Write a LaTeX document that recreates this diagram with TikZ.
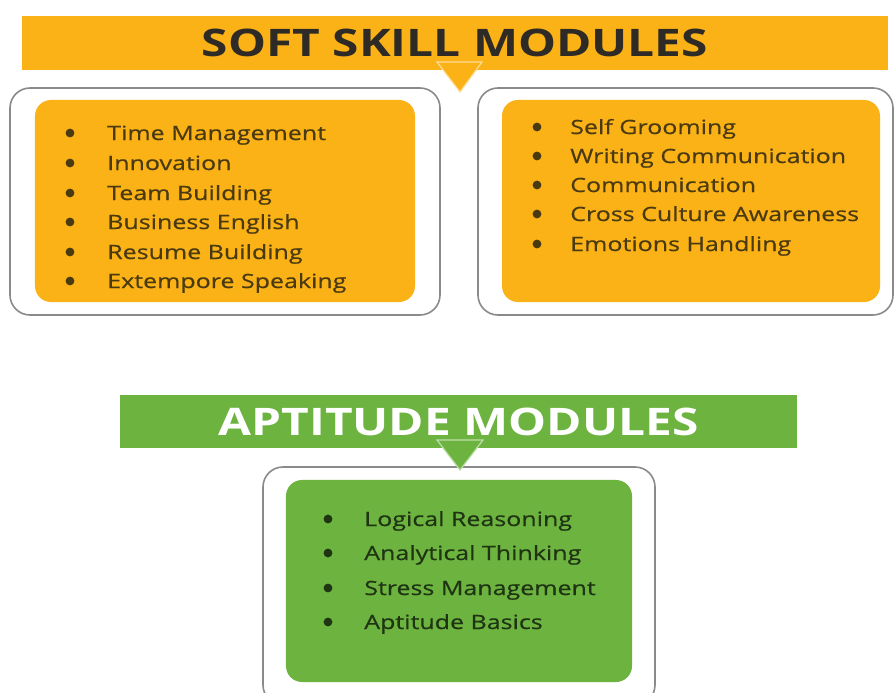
\documentclass[tikz,border=0pt]{standalone}
\usepackage{fontspec}
\setmainfont{Open Sans}
\newfontfamily\headfont[FakeStretch=1.26]{Open Sans}
\newfontfamily\itemfont[FakeStretch=1.27,FakeBold=0.5]{Open Sans}
\usetikzlibrary{positioning}
\definecolor{skillorange}{HTML}{FBB216}
\definecolor{aptgreen}{HTML}{6DB33F}
\definecolor{headgray}{HTML}{2E2A25}
\definecolor{itembrown}{HTML}{4A3A12}
\definecolor{itemgreen}{HTML}{1E3412}
\definecolor{framegray}{HTML}{8A8A8A}

\begin{document}
\begin{tikzpicture}[x=0.25mm,y=-0.25mm]
        %
        % `banner' is the heading bar, `frame' the grey outline,
        % `panel' the coloured box inside it, `dot' the bullet.
        \tikzstyle{banner} = [inner sep=0pt,minimum height=13.5mm,font=\headfont\fontsize{27}{30}\selectfont\bfseries]
        \tikzstyle{frame} = [draw=framegray,line width=0.4mm,rounded corners=5mm,fill=white]
        \tikzstyle{panel} = [rounded corners=4mm,inner sep=0pt]
        \tikzstyle{dot} = [fill,shape=circle,minimum size=2.2mm,inner sep=0pt]
        \tikzstyle{item} = [anchor=west,inner sep=0pt,text height=10pt,text depth=0pt,font=\itemfont\fontsize{14}{16}\selectfont]
        %
        \useasboundingbox (0,0) rectangle (896,693);
        %
        % Soft skill frames
        \node[frame,minimum width=107.5mm,minimum height=56.75mm] (leftframe) at (225,201.5) {};
        \node[panel,fill=skillorange,minimum width=95mm,minimum height=50.5mm] (leftpanel) at (225,201) {};
        \node[frame,minimum width=103.75mm,minimum height=56.75mm] (rightframe) at (685.5,201.5) {};
        \node[panel,fill=skillorange,minimum width=94.5mm,minimum height=50.5mm] (rightpanel) at (691,201) {};
        %
        % Soft skill heading
        \node[banner,fill=skillorange,text=headgray,minimum width=216.5mm] (softbanner) at (455,43) {SOFT SKILL MODULES};
        \filldraw[fill=skillorange,draw=skillorange!45!white,line width=0.3mm] (437,62) -- (482,62) -- (460,92) -- cycle;
        %
        % Left list
        \node[dot,itembrown] (b11) at (70,133) {}; \node[item,text=itembrown] (s11) at (107,133) {Time Management};
        \node[dot,itembrown] (b12) at (70,163) {}; \node[item,text=itembrown] (s12) at (107,163) {Innovation};
        \node[dot,itembrown] (b13) at (70,193) {}; \node[item,text=itembrown] (s13) at (107,193) {Team Building};
        \node[dot,itembrown] (b14) at (70,222) {}; \node[item,text=itembrown] (s14) at (107,222) {Business English};
        \node[dot,itembrown] (b15) at (70,252) {}; \node[item,text=itembrown] (s15) at (107,252) {Resume Building};
        \node[dot,itembrown] (b16) at (70,281) {}; \node[item,text=itembrown] (s16) at (107,281) {Extempore Speaking};
        %
        % Right list
        \node[dot,itembrown] (b21) at (537,127) {}; \node[item,text=itembrown] (s21) at (570,127) {Self Grooming};
        \node[dot,itembrown] (b22) at (537,156) {}; \node[item,text=itembrown] (s22) at (570,156) {Writing Communication};
        \node[dot,itembrown] (b23) at (537,185) {}; \node[item,text=itembrown] (s23) at (570,185) {Communication};
        \node[dot,itembrown] (b24) at (537,214) {}; \node[item,text=itembrown] (s24) at (570,214) {Cross Culture Awareness};
        \node[dot,itembrown] (b25) at (537,244) {}; \node[item,text=itembrown] (s25) at (570,244) {Emotions Handling};
        %
        % Aptitude frame
        \node[frame,minimum width=98mm,minimum height=59.5mm] (aptframe) at (459,586) {};
        \node[panel,fill=aptgreen,minimum width=86.5mm,minimum height=50.5mm] (aptpanel) at (459,581) {};
        %
        % Aptitude heading
        \node[banner,fill=aptgreen,text=white,minimum width=169.25mm,minimum height=13.25mm] (aptbanner) at (458.5,421.5) {APTITUDE MODULES};
        \filldraw[fill=aptgreen,draw=aptgreen!45!white,line width=0.3mm] (437,440) -- (483,440) -- (460,470) -- cycle;
        %
        % Aptitude list
        \node[dot,itemgreen] (b31) at (328,519) {}; \node[item,text=itemgreen] (s31) at (364,519) {Logical Reasoning};
        \node[dot,itemgreen] (b32) at (328,553) {}; \node[item,text=itemgreen] (s32) at (364,553) {Analytical Thinking};
        \node[dot,itemgreen] (b33) at (328,588) {}; \node[item,text=itemgreen] (s33) at (364,588) {Stress Management};
        \node[dot,itemgreen] (b34) at (328,622) {}; \node[item,text=itemgreen] (s34) at (364,622) {Aptitude Basics};
        %
\end{tikzpicture}
\end{document}
